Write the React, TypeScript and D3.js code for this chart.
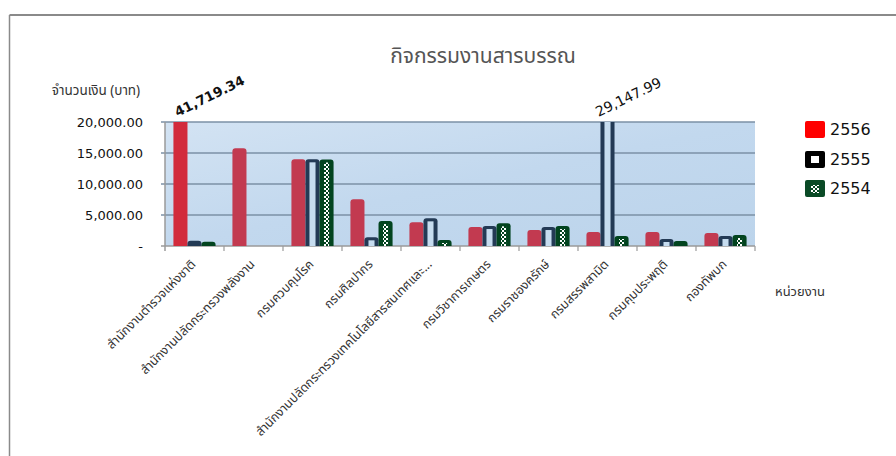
import React from 'react';
import * as d3 from 'd3';

const categories = [
  'สำนักงานตำรวจแห่งชาติ',
  'สำนักงานปลัดกระทรวงพลังงาน',
  'กรมควบคุมโรค',
  'กรมศิลปากร',
  'สำนักงานปลัดกระทรวงเทคโนโลยีสารสนเทศและ...',
  'กรมวิชาการเกษตร',
  'กรมราชองครักษ์',
  'กรมสรรพสามิต',
  'กรมคุมประพฤติ',
  'กองทัพบก',
];
const seriesNames = ['2556', '2555', '2554'];
const values2556 = [41719.34, 15760, 13980, 7530, 3820, 3060, 2580, 2260, 2260, 2100];
const values2555 = [850, 0, 13980, 1400, 4460, 3220, 3060, 29147.99, 1130, 1610];
const values2554 = [700, 0, 13950, 4030, 970, 3660, 3220, 1610, 800, 1770];
const yTicks = [0, 5000, 10000, 15000, 20000];

const W = 896;
const H = 456;
const plot = { left: 165, right: 755, top: 122, bottom: 246 };
const thaiFont = '"Noto Sans Thai", Tahoma, "DejaVu Sans", sans-serif';
const numFont = '"DejaVu Sans", Verdana, sans-serif';

const colors: Record<string, string> = { '2556': '#c23a50', '2555': '#233a55', '2554': '#02441f' };

// bar path with rounded top corners
const barPath = (x: number, y: number, w: number, h: number, r = 3) => {
  if (h <= 0) return '';
  const rr = Math.min(r, h, w / 2);
  return `M${x},${y + h}V${y + rr}Q${x},${y} ${x + rr},${y}H${x + w - rr}Q${x + w},${y} ${x + w},${y + rr}V${y + h}Z`;
};

const fmt = d3.format(',.2f');

export default function App() {
  const series = [values2556, values2555, values2554];

  const x = d3.scaleBand<string>().domain(categories).range([plot.left, plot.right]).padding(0);
  const x1 = d3.scaleBand<string>().domain(seriesNames).range([0, x.bandwidth()]).paddingOuter(0.6).paddingInner(0);
  const y = d3.scaleLinear().domain([0, 20000]).range([plot.bottom, plot.top]);
  const bw = x1.bandwidth();

  const bars: React.ReactNode[] = [];
  const labels: React.ReactNode[] = [];
  categories.forEach((c, i) => {
    seriesNames.forEach((s, si) => {
      const v = series[si][i];
      if (!v) return;
      const bx = (x(c) || 0) + (x1(s) || 0);
      const over = v > 20000;
      // clipped bars run past the plot top so their cap is cut off
      const top = over ? plot.top - 8 : y(v);
      const h = plot.bottom - top;
      const key = `${c}-${s}`;
      if (s === '2556') {
        bars.push(<path key={key} d={barPath(bx, top, bw, h)} fill={over ? '#d22b3c' : colors[s]} />);
      } else if (s === '2555') {
        bars.push(
          <g key={key}>
            <path d={barPath(bx, top, bw, h)} fill={colors[s]} />
            {h > 6 && <rect x={bx + 4} y={top + 3} width={bw - 8} height={h - 3} fill="#c6dcef" />}
          </g>
        );
      } else {
        bars.push(
          <g key={key}>
            <path d={barPath(bx, top, bw, h)} fill={colors[s]} />
            {h > 6 && <rect x={bx + 4.5} y={top + 3} width={bw - 9} height={h - 3} fill="url(#zig)" />}
          </g>
        );
      }
      if (over) {
        const bold = s === '2556';
        labels.push(
          <text
            key={`lab-${key}`}
            transform={`translate(${bx + (bold ? 4 : -2)},${plot.top - 5}) rotate(-26)`}
            fontFamily={numFont}
            fontSize={bold ? 13.5 : 14}
            fontWeight={bold ? 'bold' : 'normal'}
            fill="#111"
          >
            {fmt(v)}
          </text>
        );
      }
    });
  });

  const legendY = [121, 151, 180];

  return (
    <svg width={W} height={H} style={{ position: 'absolute', left: 0, top: 0 }}>
      <defs>
        <linearGradient id="bg" x1="0" y1="0" x2="1" y2="1">
          <stop offset="0" stopColor="#d3e3f3" />
          <stop offset="0.5" stopColor="#c2d8ee" />
          <stop offset="1" stopColor="#bcd4eb" />
        </linearGradient>
        <pattern id="zig" width="4" height="4" patternUnits="userSpaceOnUse">
          <rect x="0" y="0" width="2" height="2" fill="#fff" />
          <rect x="2" y="2" width="2" height="2" fill="#fff" />
        </pattern>
        <clipPath id="plotClip">
          <rect x={plot.left} y={plot.top} width={plot.right - plot.left} height={plot.bottom - plot.top + 1} />
        </clipPath>
      </defs>
      <rect x={0} y={0} width={W} height={H} fill="#fff" />
      {/* chart frame (only top + left are in view) */}
      <line x1={9.5} y1={15} x2={W} y2={15} stroke="#8a8a8a" strokeWidth={2} />
      <line x1={9.5} y1={15} x2={9.5} y2={H} stroke="#8a8a8a" strokeWidth={1.5} />

      <text x={483} y={63} textAnchor="middle" fontFamily={thaiFont} fontSize={21} fill="#555">
        กิจกรรมงานสารบรรณ
      </text>
      <text x={96} y={95} textAnchor="middle" fontFamily={thaiFont} fontSize={13.5} fill="#333">
        จำนวนเงิน (บาท)
      </text>
      <text x={800} y={296} textAnchor="middle" fontFamily={thaiFont} fontSize={13} fill="#333">
        หน่วยงาน
      </text>

      <rect x={plot.left} y={plot.top} width={plot.right - plot.left} height={plot.bottom - plot.top} fill="url(#bg)" />

      {yTicks.map((t) => (
        <g key={t}>
          <line x1={plot.left - 4} x2={plot.right} y1={y(t)} y2={y(t)} stroke={t === 0 ? '#9a9a9a' : '#7b90a6'} strokeWidth={1.5} />
          <text x={143} y={y(t) + 5} textAnchor="end" fontFamily={numFont} fontSize={13} fill="#111">
            {t === 0 ? '-' : fmt(t)}
          </text>
        </g>
      ))}
      <line x1={plot.left} x2={plot.left} y1={plot.top} y2={plot.bottom + 5} stroke="#9a9a9a" strokeWidth={1.5} />
      {categories.map((c) => (
        <line key={c} x1={(x(c) || 0) + x.bandwidth()} x2={(x(c) || 0) + x.bandwidth()} y1={plot.bottom} y2={plot.bottom + 5} stroke="#9a9a9a" strokeWidth={1.2} />
      ))}

      <g clipPath="url(#plotClip)">{bars}</g>
      {labels}

      {categories.map((c) => {
        const cx = (x(c) || 0) + x.bandwidth() / 2 + 2;
        return (
          <text
            key={`t-${c}`}
            transform={`translate(${cx},${plot.bottom + 19}) rotate(-45)`}
            textAnchor="end"
            fontFamily={thaiFont}
            fontSize={12.5}
            fill="#333"
          >
            {c}
          </text>
        );
      })}

      {seriesNames.map((s, i) => (
        <g key={`leg-${s}`} transform={`translate(805,${legendY[i]})`}>
          {s === '2556' && <rect width={20} height={17} rx={2} fill="#ff0000" />}
          {s === '2555' && (
            <g>
              <rect width={20} height={17} rx={2} fill="#000" />
              <rect x={6} y={5} width={8} height={7} fill="#fff" />
            </g>
          )}
          {s === '2554' && (
            <g>
              <rect width={20} height={17} rx={2} fill="#0a4a26" />
              <rect x={6} y={5} width={8} height={8} fill="url(#zig)" />
            </g>
          )}
          <text x={25} y={14} fontFamily={numFont} fontSize={16} fill="#111">
            {s}
          </text>
        </g>
      ))}
    </svg>
  );
}
